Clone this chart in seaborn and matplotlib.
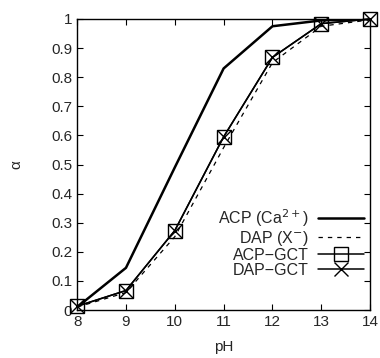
import matplotlib
matplotlib.use("Agg")
import matplotlib.pyplot as plt
import pandas as pd
import seaborn as sns

ph = [8, 9, 10, 11, 12, 13, 14]
acp_ca = [0.01, 0.145, 0.49, 0.83, 0.975, 0.995, 1.0]
dap_x = [0.01, 0.06, 0.252, 0.558, 0.85, 0.975, 0.997]
acp_gct = [0.013, 0.067, 0.273, 0.595, 0.868, 0.984, 1.0]
dap_gct = [0.013, 0.067, 0.273, 0.595, 0.868, 0.984, 1.0]

df = pd.DataFrame({"pH": ph, "acp": acp_ca, "dap": dap_x,
                   "acp_gct": acp_gct, "dap_gct": dap_gct})

sns.set_style("ticks")
plt.rcParams["font.family"] = ["Liberation Sans", "DejaVu Sans"]
plt.rcParams["xtick.direction"] = "in"
plt.rcParams["ytick.direction"] = "in"

fig = plt.figure(figsize=(3.8, 3.58), dpi=100)
ax = fig.add_axes([0.203, 0.134, 0.771, 0.813])

sns.lineplot(data=df, x="pH", y="acp", ax=ax, color="black", lw=1.8,
             label="ACP (Ca$^{2+}$)")
sns.lineplot(data=df, x="pH", y="dap", ax=ax, color="black", lw=0.9,
             ls=(0, (3.5, 4)), label="DAP (X$^{-}$)")
sns.lineplot(data=df, x="pH", y="acp_gct", ax=ax, color="black", lw=1.1,
             marker="s", ms=9.5, mfc="none", mec="black", mew=1.0,
             label="ACP\u2212GCT", clip_on=False)
sns.lineplot(data=df, x="pH", y="dap_gct", ax=ax, color="black", lw=1.1,
             marker="x", ms=9.5, mec="black", mew=1.0,
             label="DAP\u2212GCT", clip_on=False)

ax.set_xlim(8, 14)
ax.set_ylim(0, 1)
ax.set_xticks(ph)
ax.set_yticks([i / 10 for i in range(11)])
ax.set_yticklabels(["0", "0.1", "0.2", "0.3", "0.4", "0.5", "0.6",
                    "0.7", "0.8", "0.9", "1"])
ax.tick_params(labelsize=11, top=True, right=True, length=4, width=0.8,
               color="black")
for s in ax.spines.values():
    s.set_visible(True)
    s.set_linewidth(1.0)
    s.set_color("black")
ax.set_xlabel("pH", fontsize=11, labelpad=8)
ax.set_ylabel("\u03b1", fontsize=11, labelpad=20, rotation=90)

leg = ax.legend(loc="lower right", bbox_to_anchor=(0.99, 0.1), frameon=False,
                markerfirst=False, fontsize=11.5, handlelength=2.9,
                labelspacing=0.0, handletextpad=0.55, borderaxespad=0.05,
                borderpad=0.15)

fig.savefig("out.png", dpi=100)
